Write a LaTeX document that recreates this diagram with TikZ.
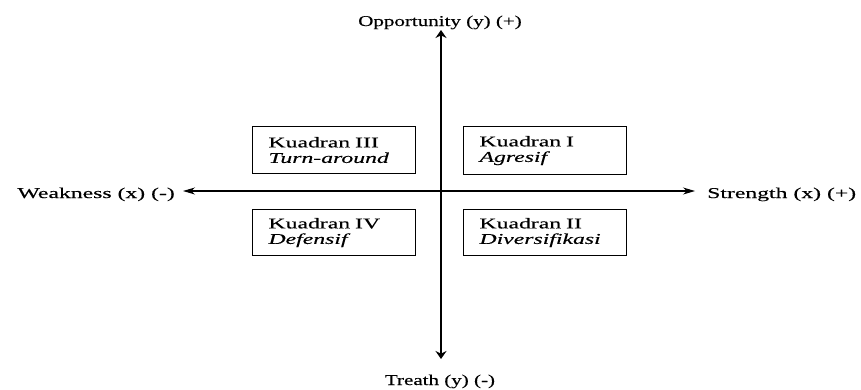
\documentclass[tikz,border=0pt]{standalone}
\usepackage{fontspec}
\setmainfont[FakeStretch=1.58,FakeBold=0.3]{Liberation Serif}
\newfontfamily\vfont[FakeStretch=1.4,FakeBold=0.3]{Liberation Serif}
\usetikzlibrary{arrows.meta}
\begin{document}
\begin{tikzpicture}[x=1pt,y=-1pt,
  lab/.style={font=\fontsize{15}{15.5}\selectfont, inner sep=0pt},
  vlab/.style={font=\vfont\fontsize{15}{15.5}\selectfont, inner sep=0pt},
  quad/.style={draw, line width=1.1pt, minimum width=163pt, minimum height=47pt,
    text width=131pt, inner xsep=16pt, inner ysep=0pt, align=left, anchor=north west,
    font=\fontsize{15}{15.5}\selectfont},
  haxis/.style={line width=1.1pt, {Stealth[length=12pt,width=7pt]}-{Stealth[length=12pt,width=7pt]}},
  vaxis/.style={line width=1.6pt, {Stealth[length=8pt,width=11pt]}-{Stealth[length=8pt,width=11pt]}}]
\useasboundingbox (0,0) rectangle (861,389);
% labels
\node[vlab, anchor=base] (opp) at (440,26) {Opportunity (y) (+)};
\node[vlab, anchor=base] (thr) at (440,385) {Treath (y) (-)};
\node[lab, anchor=base east] (weak) at (175,198) {Weakness (x) (-)};
\node[lab, anchor=base west] (str) at (707,198) {Strength (x) (+)};
% axis end points
\coordinate (top) at (441,30);
\coordinate (bot) at (441,359);
\coordinate (lft) at (183,191);
\coordinate (rgt) at (695,191);
\draw[haxis] (lft) -- (rgt);
\draw[vaxis] (top) -- (bot);
% quadrant boxes
\node[quad] (q3) at (252,126) {Kuadran III\\\textit{Turn-around}};
\node[quad, minimum height=48pt] (q1) at (463,126) {Kuadran I\\\textit{Agresif}};
\node[quad, minimum height=46pt] (q4) at (252,209) {Kuadran IV\\\textit{Defensif}};
\node[quad, minimum height=46pt] (q2) at (463,209) {Kuadran II\\\textit{Diversifikasi}};
\end{tikzpicture}
\end{document}
